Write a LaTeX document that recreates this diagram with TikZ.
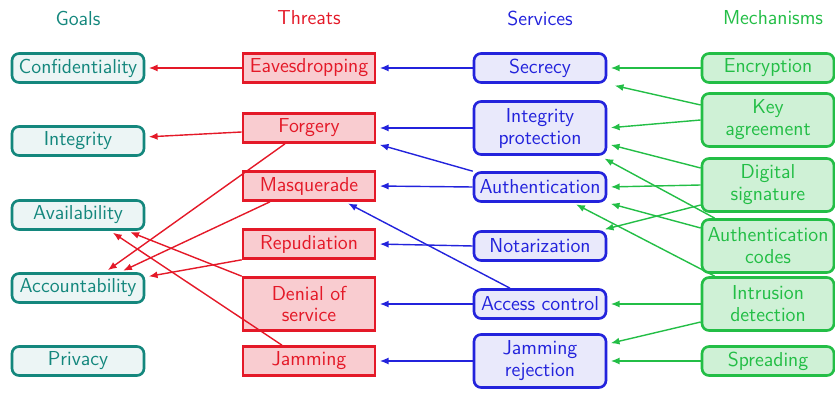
\documentclass[tikz,border=0pt]{standalone}
\usetikzlibrary{arrows.meta,calc}
\definecolor{goalc}{RGB}{20,135,125}
\definecolor{threatc}{RGB}{228,25,40}
\definecolor{servc}{RGB}{35,35,220}
\definecolor{mechc}{RGB}{35,190,70}
\begin{document}
\begin{tikzpicture}[x=0.02cm,y=-0.02cm,font=\sffamily\fontsize{11.5}{12.5}\selectfont,
  box/.style={draw,line width=1.5pt,minimum width=2.64cm,minimum height=0.58cm,inner sep=2pt,align=center},
  tall/.style={minimum height=1.06cm},
  goal/.style={box,rounded corners=4pt,draw=goalc,fill=goalc!8,text=goalc},
  threat/.style={box,draw=threatc,fill=threatc!22,text=threatc},
  serv/.style={box,rounded corners=4pt,draw=servc,fill=servc!10,text=servc},
  mech/.style={box,rounded corners=4pt,draw=mechc,fill=mechc!22,text=mechc},
  link/.style={-{Latex[length=5pt,width=4pt]},line width=0.8pt,shorten >=2pt}]
\useasboundingbox (0,0) rectangle (835,394);
% column titles
\node [text=goalc,name=tgoals] at (78,18) {Goals};
\node [text=threatc,name=tthreats] at (309,18) {Threats};
\node [text=servc,name=tserv] at (540,18) {Services};
\node [text=mechc,name=tmech] at (773,18) {Mechanisms};
% goals
\node [goal,name=conf] at (78,68) {Confidentiality};
\node [goal,name=integ] at (78,141) {Integrity};
\node [goal,name=avail] at (78,215) {Availability};
\node [goal,name=acc] at (78,288) {Accountability};
\node [goal,name=priv] at (78,361) {Privacy};
% threats
\node [threat,name=eaves] at (309,68) {Eavesdropping};
\node [threat,name=forg] at (309,128) {Forgery};
\node [threat,name=masq] at (309,186) {Masquerade};
\node [threat,name=repud] at (309,244) {Repudiation};
\node [threat,tall,name=denial] at (309,304) {Denial of\\service};
\node [threat,name=jam] at (309,361) {Jamming};
% services
\node [serv,name=secr] at (540,68) {Secrecy};
\node [serv,tall,name=intp] at (540,128) {Integrity\\protection};
\node [serv,name=auth] at (540,187) {Authentication};
\node [serv,name=nota] at (540,246) {Notarization};
\node [serv,name=access] at (540,304) {Access control};
\node [serv,tall,name=jamrej] at (540,361) {Jamming\\rejection};
% mechanisms
\node [mech,name=encr] at (768,68) {Encryption};
\node [mech,tall,name=keyag] at (768,120) {Key\\agreement};
\node [mech,tall,name=digsig] at (768,185) {Digital\\signature};
\node [mech,tall,name=authc] at (768,246) {Authentication\\codes};
\node [mech,tall,name=intru] at (768,304) {Intrusion\\detection};
\node [mech,name=spread] at (768,361) {Spreading};
% threats -> goals
\draw [link,threatc] (eaves.west) -- (conf.east);
\draw [link,threatc] ($(forg.west)+(0,4)$) -- ($(integ.east)+(0,-4)$);
\draw [link,threatc] ($(forg.south)+(-24,0)$) -- ($(acc.north)+(27,0)$);
\draw [link,threatc] ($(masq.south)+(-39,0)$) -- ($(acc.north)+(42,0)$);
\draw [link,threatc] (repud.south west) -- ($(acc.east)+(0,-11)$);
\draw [link,threatc] (denial.north west) -- ($(avail.south)+(49,0)$);
\draw [link,threatc] ($(jam.north)+(-27,0)$) -- ($(avail.south)+(32,0)$);
% services -> threats
\draw [link,servc] (secr.west) -- (eaves.east);
\draw [link,servc] (intp.west) -- (forg.east);
\draw [link,servc] (auth.north west) -- (forg.south east);
\draw [link,servc] (auth.west) -- (masq.east);
\draw [link,servc] (nota.west) -- (repud.east);
\draw [link,servc] ($(access.north)+(-30,0)$) -- ($(masq.south)+(36,0)$);
\draw [link,servc] (access.west) -- (denial.east);
\draw [link,servc] (jamrej.west) -- (jam.east);
% mechanisms -> services
\draw [link,mechc] (encr.west) -- (secr.east);
\draw [link,mechc] ($(keyag.west)+(0,-15)$) -- ($(secr.south east)+(4,1)$);
\draw [link,mechc] (keyag.west) -- (intp.east);
\draw [link,mechc] ($(digsig.west)+(0,-17)$) -- ($(intp.east)+(0,16)$);
\draw [link,mechc] (digsig.west) -- (auth.east);
\draw [link,mechc] ($(digsig.west)+(0,20)$) -- ($(nota.north east)+(-6,0)$);
\draw [link,mechc] ($(authc.north west)+(14,0)$) -- ($(intp.south east)+(-6,1)$);
\draw [link,mechc] ($(authc.west)+(0,-18)$) -- (auth.south east);
\draw [link,mechc] ($(intru.north west)+(14,0)$) -- ($(auth.south)+(33,0)$);
\draw [link,mechc] (intru.west) -- (access.east);
\draw [link,mechc] ($(intru.west)+(0,18)$) -- ($(jamrej.east)+(0,-17)$);
\draw [link,mechc] (spread.west) -- (jamrej.east);
\end{tikzpicture}
\end{document}
